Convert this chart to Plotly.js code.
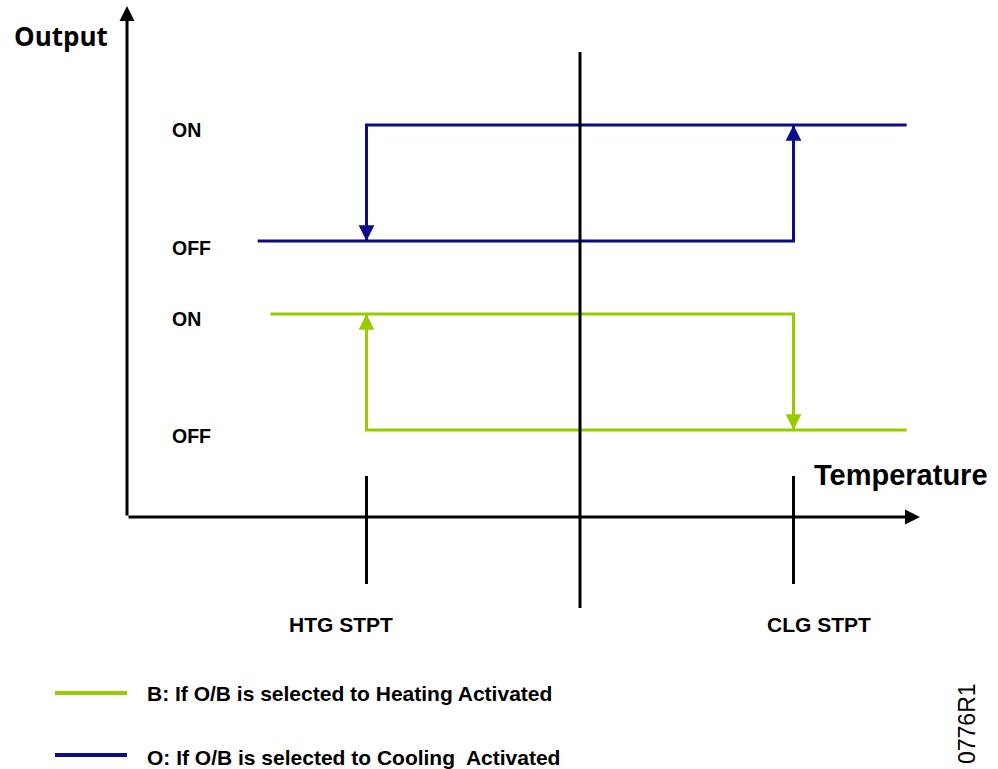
<!DOCTYPE html>
<html>
<head>
<meta charset="utf-8">
<script src="https://cdn.plot.ly/plotly-3.0.1.min.js"></script>
<style>
  html, body { margin: 0; padding: 0; background: #ffffff; }
  #chart { width: 998px; height: 769px; }
</style>
</head>
<body>
<div id="chart"></div>
<script>
// ---------------- data (arbitrary temperature / output units) ----------------
const setpointNames = ["HTG STPT", "CLG STPT"];
const setpointTemps = [-2, 2];          // heating and cooling setpoints
const midTemp = 0;                       // centre between the setpoints
const outputLevelNames = ["ON", "OFF", "ON", "OFF"];

// Cooling (O) curve
const coolX = [-3.02, 2, 2, 3.06, -2, -2];
const coolY = [2.38, 2.38, 3.38, 3.38, 3.38, 2.38];
const coolOff = 2.38, coolOn = 3.38;

// Heating (B) curve
const heatX = [-2.9, 2, 2, 3.06, -2, -2];
const heatY = [1.75, 1.75, 0.75, 0.75, 0.75, 1.75];
const heatOff = 0.75, heatOn = 1.75;

const legendLabels = ["B: If O/B is selected to Heating Activated",
                      "O: If O/B is selected to Cooling  Activated"];
const axisTitles = ["Output", "Temperature"];
const drawingId = "0776R1";

// ---------------- styles / geometry ----------------
const BLUE = "#0b0b8c";
const GREEN = "#99cc00";
const BLACK = "#000000";
const W = 998, H = 769;
// pixel mapping: temperature 0 at px 580, 1 unit = 106.75 px; output 0 at py 517, 1 unit = 116 px
const XR = [-580 / 106.75, (W - 580) / 106.75];
const YR = [-(H - 517) / 116, 517 / 116];
const X = px => (px - 580) / 106.75;
const Y = py => (517 - py) / 116;

const axisX = X(127);        // vertical (output) axis position
const axisY = 0;             // horizontal (temperature) axis position

const traces = [
  { x: coolX, y: coolY, mode: "lines", line: { color: BLUE, width: 3 }, hoverinfo: "skip" },
  { x: heatX, y: heatY, mode: "lines", line: { color: GREEN, width: 3 }, hoverinfo: "skip" },
  // setpoint tick lines
  { x: [setpointTemps[0], setpointTemps[0]], y: [Y(476), Y(584)], mode: "lines", line: { color: BLACK, width: 3 }, hoverinfo: "skip" },
  { x: [setpointTemps[1], setpointTemps[1]], y: [Y(476), Y(584)], mode: "lines", line: { color: BLACK, width: 3 }, hoverinfo: "skip" },
  { x: [midTemp, midTemp], y: [Y(52), Y(608)], mode: "lines", line: { color: BLACK, width: 3 }, hoverinfo: "skip" },
  // legend swatches
  { x: [X(55), X(127)], y: [Y(693), Y(693)], mode: "lines", line: { color: GREEN, width: 4 }, hoverinfo: "skip" },
  { x: [X(55), X(127)], y: [Y(755), Y(755)], mode: "lines", line: { color: BLUE, width: 4 }, hoverinfo: "skip" }
];

function arrow(xTip, yTip, xTail, yTail, color, w, size) {
  return { x: xTip, y: yTip, ax: xTail, ay: yTail, xref: "x", yref: "y", axref: "x", ayref: "y",
           showarrow: true, arrowhead: 2, arrowwidth: w, arrowsize: size, arrowcolor: color, text: "" };
}

const boldArial = (s, c) => ({ family: "Liberation Sans, Arial, sans-serif", size: s, color: c || BLACK, weight: "bold" });
function label(text, px, py, font, xanchor, extra) {
  return Object.assign({ x: X(px), y: Y(py), xref: "x", yref: "y", text: "<b>" + text + "</b>", showarrow: false,
           xanchor: xanchor || "left", yanchor: "middle", font: font }, extra || {});
}

const annotations = [
  // axes with arrows
  arrow(axisX, Y(6), axisX, axisY, BLACK, 3, 1),
  arrow(X(920), axisY, axisX, axisY, BLACK, 3, 1),
  // hysteresis arrows
  arrow(setpointTemps[0], coolOff, setpointTemps[0], coolOn, BLUE, 3, 1.05),
  arrow(setpointTemps[1], coolOn, setpointTemps[1], coolOff, BLUE, 3, 1.05),
  arrow(setpointTemps[0], heatOn, setpointTemps[0], heatOff, GREEN, 3, 1.05),
  arrow(setpointTemps[1], heatOff, setpointTemps[1], heatOn, GREEN, 3, 1.05),
  // titles
  label(axisTitles[0], 12, 36, { family: "Open Sans, sans-serif", size: 26, color: BLACK, weight: "bold" }),
  label(axisTitles[1], 812, 475, boldArial(29)),
  // output level labels
  label(outputLevelNames[0], 170, 130, boldArial(19.5)),
  label(outputLevelNames[1], 170, 248, boldArial(19.5)),
  label(outputLevelNames[2], 170, 319, boldArial(19.5)),
  label(outputLevelNames[3], 170, 436, boldArial(19.5)),
  // setpoint names
  label(setpointNames[0], 341, 624, boldArial(21), "center"),
  label(setpointNames[1], 819, 624, boldArial(21), "center"),
  // legend
  label(legendLabels[0], 145, 693, boldArial(21)),
  label(legendLabels[1], 145, 757, boldArial(21)),
  // drawing id (rotated)
  { x: X(967), y: Y(724), xref: "x", yref: "y", text: drawingId, showarrow: false, textangle: -90,
    xanchor: "center", yanchor: "middle", font: { family: "Liberation Sans, Arial, sans-serif", size: 23, color: BLACK } }
];

const layout = {
  width: W, height: H,
  margin: { l: 0, r: 0, t: 0, b: 0, pad: 0 },
  paper_bgcolor: "#ffffff", plot_bgcolor: "#ffffff",
  showlegend: false,
  xaxis: { range: XR, visible: false, showgrid: false, zeroline: false, fixedrange: true },
  yaxis: { range: YR, visible: false, showgrid: false, zeroline: false, fixedrange: true },
  annotations: annotations
};

Plotly.newPlot("chart", traces, layout, { staticPlot: true, displayModeBar: false });
</script>
</body>
</html>
